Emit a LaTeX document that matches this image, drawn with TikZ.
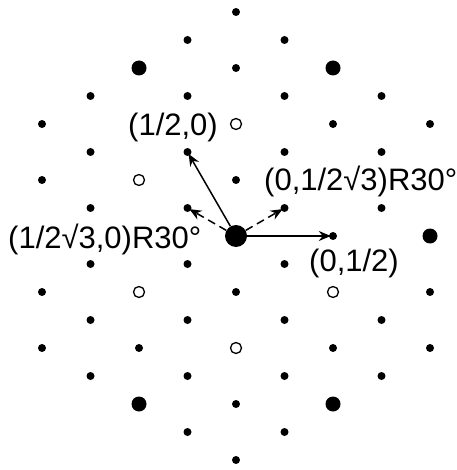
\documentclass[tikz,border=0pt]{standalone}
\usepackage{fontspec}
\setmainfont{Liberation Sans}
\usetikzlibrary{arrows.meta}
\tikzset{
  dot/.style={circle,fill=black,inner sep=0pt,minimum size=8pt},
  bigdot/.style={circle,fill=black,inner sep=0pt,minimum size=15pt},
  centerdot/.style={circle,fill=black,inner sep=0pt,minimum size=22pt},
  opendot/.style={circle,draw=black,line width=1.3pt,fill=white,inner sep=0pt,minimum size=11pt},
  vec/.style={line width=1.5pt,shorten >=-2pt,-{Stealth[length=12pt,width=10pt]}},
  dvec/.style={vec,dash pattern=on 8pt off 5pt},
  lbl/.style={inner sep=0pt,font=\fontsize{31}{33}\selectfont}
}
\begin{document}
\begin{tikzpicture}[x=1pt,y=-1pt]
\useasboundingbox (0,0) rectangle (456,470);
% small dots
\foreach \i/\j in {0/-8,0/-6,0/-2,0/2,0/6,0/8,
  -1/-7,-1/-5,-1/-3,-1/-1,-1/1,-1/3,-1/5,-1/7,
  1/-7,1/-5,1/-3,1/-1,1/1,1/3,1/5,1/7,
  -2/4,2/-4,2/0,2/4,
  -3/-5,-3/-3,-3/-1,-3/1,-3/3,-3/5,
  3/-5,3/-3,3/-1,3/3,3/5,
  -4/-4,-4/-2,-4/2,-4/4,
  4/-4,4/2,4/4}
  \node[dot] (p\i\j) at ({236+(\i)*48.5},{236+(\j)*28}) {};
% big dots
\foreach \i/\j in {-2/-6,2/-6,4/0,-2/6,2/6}
  \node[bigdot] (p\i\j) at ({236+(\i)*48.5},{236+(\j)*28}) {};
% open circles
\foreach \i/\j in {0/-4,-2/-2,-2/2,0/4,2/2}
  \node[opendot] (p\i\j) at ({236+(\i)*48.5},{236+(\j)*28}) {};
% centre
\node[centerdot] (p00) at (236,236) {};
% vectors
\draw[vec] (p00) -- (p-1-3);
\draw[vec] (p00) -- (p20);
\draw[dvec] (p00) -- (p-1-1);
\draw[dvec] (p00) -- (p1-1);
% labels
\node[lbl,anchor=east] (l1) at (218,127) {(1/2,0)};
\node[lbl,anchor=west] (l2) at (264,181) {(0,1/2√3)R30°};
\node[lbl,anchor=west] (l3) at (8,239) {(1/2√3,0)R30°};
\node[lbl,anchor=west] (l4) at (309,263) {(0,1/2)};
\end{tikzpicture}
\end{document}
